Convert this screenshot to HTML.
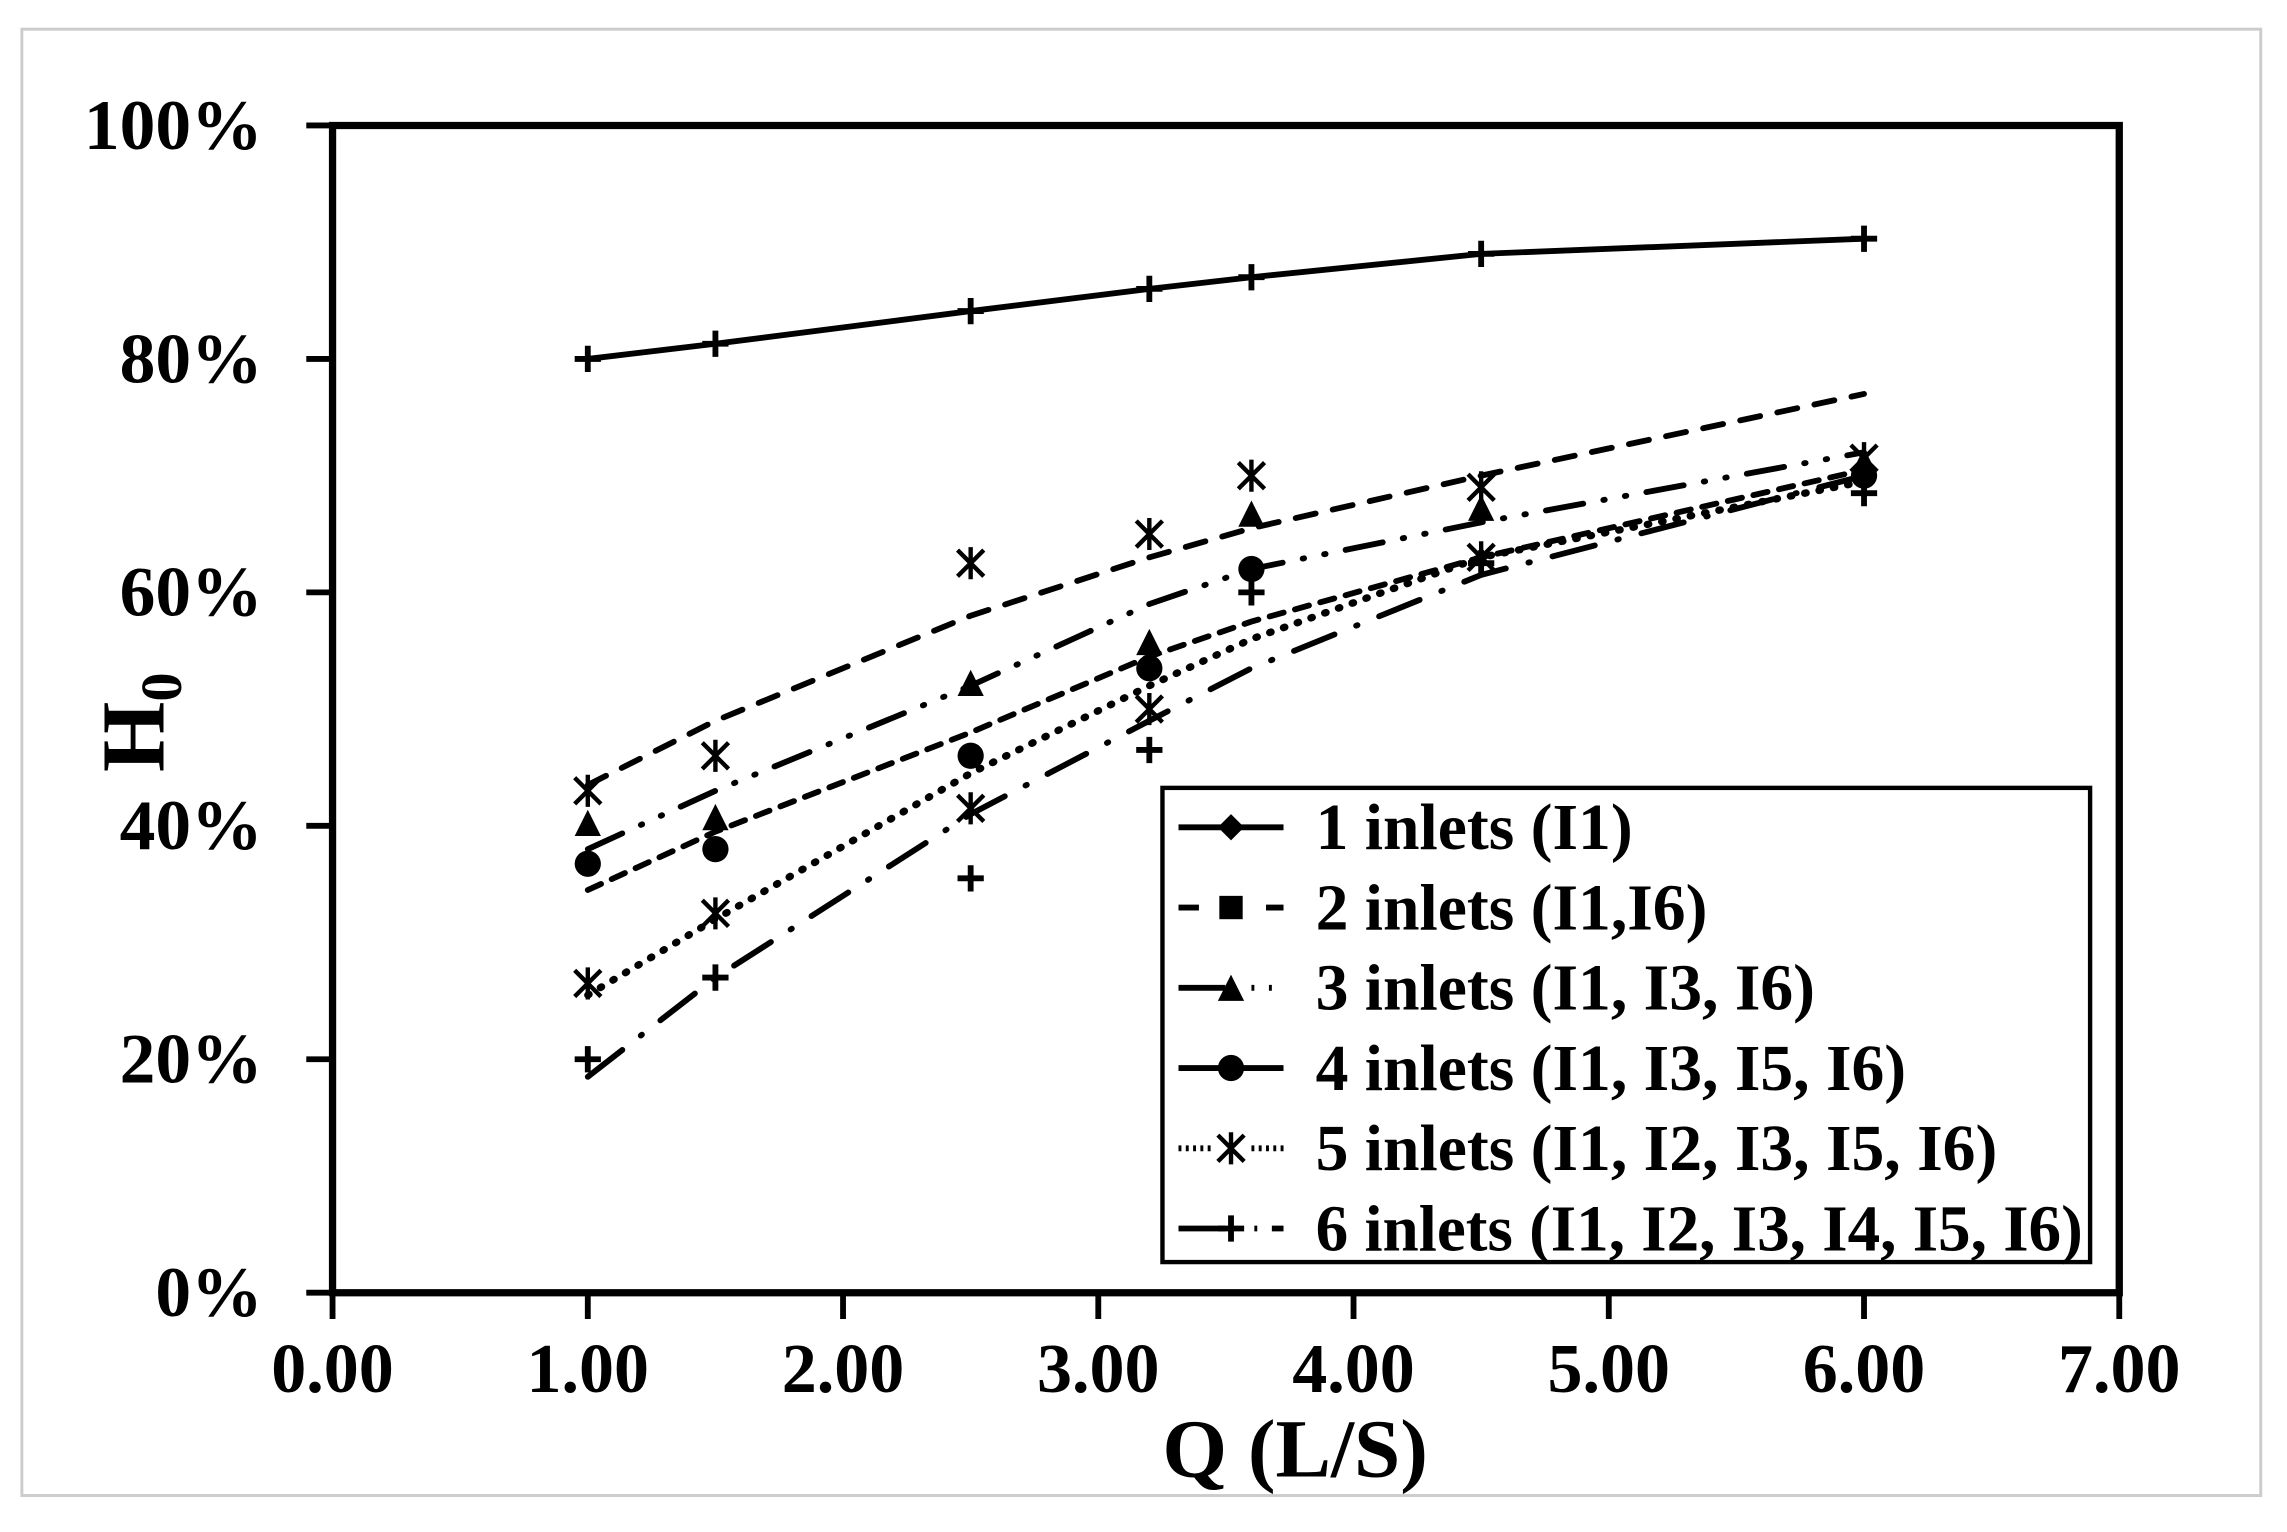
<!DOCTYPE html>
<html><head><meta charset="utf-8"><style>html,body{margin:0;padding:0;background:#fff}svg{display:block}</style></head>
<body>
<svg width="2287" height="1532" viewBox="0 0 1568 1050" preserveAspectRatio="none" xmlns="http://www.w3.org/2000/svg" font-family="'Liberation Serif',serif" font-weight="bold">
<defs>
<g id="ast"><path d="M-9,-9L9,9M-9,9L9,-9M0,-11V11" stroke="#000" stroke-width="3"/></g>
<g id="tri"><path d="M0,-11L9,7H-9Z" fill="#000"/></g>
<g id="cir"><circle r="9" fill="#000"/></g>
<g id="pls"><path d="M-9,0H9M0,-9V9" stroke="#000" stroke-width="4"/></g>
</defs>
<rect x="0" y="0" width="1568" height="1050" fill="#fff"/>
<rect x="15" y="20" width="1535" height="1005" fill="none" stroke="#ccc" stroke-width="2"/>
<path d="M228,86V886H1453V86Z" fill="none" stroke="#000" stroke-width="5"/>
<g stroke="#000" stroke-width="4">
<path d="M210,86H228M210,246H228M210,406H228M210,566H228M210,726H228M210,886H228"/>
<path d="M228,886V904M403,886V904M578,886V904M753,886V904M928,886V904M1103,886V904M1278,886V904M1453,886V904"/>
</g>
<g font-size="49" text-anchor="end">
<text x="180" y="102">100%</text><text x="180" y="262">80%</text><text x="180" y="422">60%</text>
<text x="180" y="582">40%</text><text x="180" y="742">20%</text><text x="180" y="902">0%</text>
</g>
<g font-size="48" text-anchor="middle">
<text x="228" y="954">0.00</text><text x="403" y="954">1.00</text><text x="578" y="954">2.00</text><text x="753" y="954">3.00</text>
<text x="928" y="954">4.00</text><text x="1103" y="954">5.00</text><text x="1278" y="954">6.00</text><text x="1453" y="954">7.00</text>
</g>
<text x="888" y="1012" font-size="57" text-anchor="middle">Q (L/S)</text>
<text transform="translate(112,495) rotate(-90)" font-size="62" text-anchor="middle">H<tspan font-size="40" dy="12">0</tspan></text>
<polyline points="403,246 490.5,235.6 665.5,213.2 788,198 858,190 1015.5,174 1278,163.6" fill="none" stroke="#000" stroke-width="4"/>
<g><use href="#pls" x="403" y="246"/><use href="#pls" x="490.5" y="235.6"/><use href="#pls" x="665.5" y="213.2"/><use href="#pls" x="788" y="198"/><use href="#pls" x="858" y="190"/><use href="#pls" x="1015.5" y="174"/><use href="#pls" x="1278" y="163.6"/></g>
<g fill="none" stroke="#000" stroke-width="4" stroke-linecap="round">
<polyline points="403,538 490.5,494 665.5,422 788,382 858,362 1015.5,326 1278,270" stroke-dasharray="14,12"/>
<polyline points="403,582 490.5,542 665.5,470 788,414 858,390 1015.5,358 1278,310" stroke-dasharray="26,14,1,14,1,14"/>
<polyline points="403,610 490.5,570 665.5,502 788,450 858,426 1015.5,382 1278,322" stroke-dasharray="10,8"/>
<polyline points="403,682 490.5,630 665.5,530 788,470 858,438 1015.5,382 1278,330" stroke-dasharray="1,9" stroke-width="5"/>
<polyline points="403,738 490.5,670 665.5,558 788,494 858,458 1015.5,394 1278,326" stroke-dasharray="30,16,1,16"/>
</g>
<g>
<use href="#ast" x="403" y="542"/><use href="#ast" x="490.5" y="518"/><use href="#ast" x="665.5" y="386"/><use href="#ast" x="788" y="366"/><use href="#ast" x="858" y="326"/><use href="#ast" x="1015.5" y="334"/><use href="#ast" x="1278" y="314"/>
<use href="#tri" x="403" y="566"/><use href="#tri" x="490.5" y="562"/><use href="#tri" x="665.5" y="470"/><use href="#tri" x="788" y="442"/><use href="#tri" x="858" y="354"/><use href="#tri" x="1015.5" y="350"/><use href="#tri" x="1278" y="318"/>
<use href="#cir" x="403" y="592"/><use href="#cir" x="490.5" y="582"/><use href="#cir" x="665.5" y="518"/><use href="#cir" x="788" y="458"/><use href="#cir" x="858" y="390"/><use href="#cir" x="1278" y="326"/>
<use href="#ast" x="403" y="674"/><use href="#ast" x="490.5" y="626"/><use href="#ast" x="665.5" y="554"/><use href="#ast" x="788" y="486"/><use href="#ast" x="1015.5" y="382"/>
<use href="#pls" x="403" y="726"/><use href="#pls" x="490.5" y="670"/><use href="#pls" x="665.5" y="602"/><use href="#pls" x="788" y="514"/><use href="#pls" x="858" y="406"/><use href="#pls" x="1015.5" y="386"/><use href="#pls" x="1278" y="338"/>
</g>
<rect x="797" y="540" width="636" height="325" fill="#fff" stroke="#000" stroke-width="3"/>
<g stroke="#000" stroke-width="4" fill="none">
<path d="M808,567H880"/>
<path d="M808,622H822M868,622H880"/>
<path d="M808,677H840M858,677H860M870,677H872"/>
<path d="M808,732H880"/>
<path d="M808,787H830M858,787H880" stroke-dasharray="2,3"/>
<path d="M808,842H840M860,842H862M872,842H880"/>
</g>
<path d="M844,558L853,567L844,576L835,567Z" fill="#000"/>
<rect x="836" y="614" width="16" height="16" fill="#000"/>
<use href="#tri" x="844" y="679"/>
<use href="#cir" x="844" y="732"/>
<use href="#ast" x="844" y="787"/>
<use href="#pls" x="844" y="842"/>
<g font-size="45">
<text x="902" y="582">1 inlets (I1)</text>
<text x="902" y="637">2 inlets (I1,I6)</text>
<text x="902" y="692">3 inlets (I1, I3, I6)</text>
<text x="902" y="747">4 inlets (I1, I3, I5, I6)</text>
<text x="902" y="802">5 inlets (I1, I2, I3, I5, I6)</text>
<text x="902" y="857" textLength="526" lengthAdjust="spacingAndGlyphs">6 inlets (I1, I2, I3, I4, I5, I6)</text>
</g>
</svg>
</body></html>
